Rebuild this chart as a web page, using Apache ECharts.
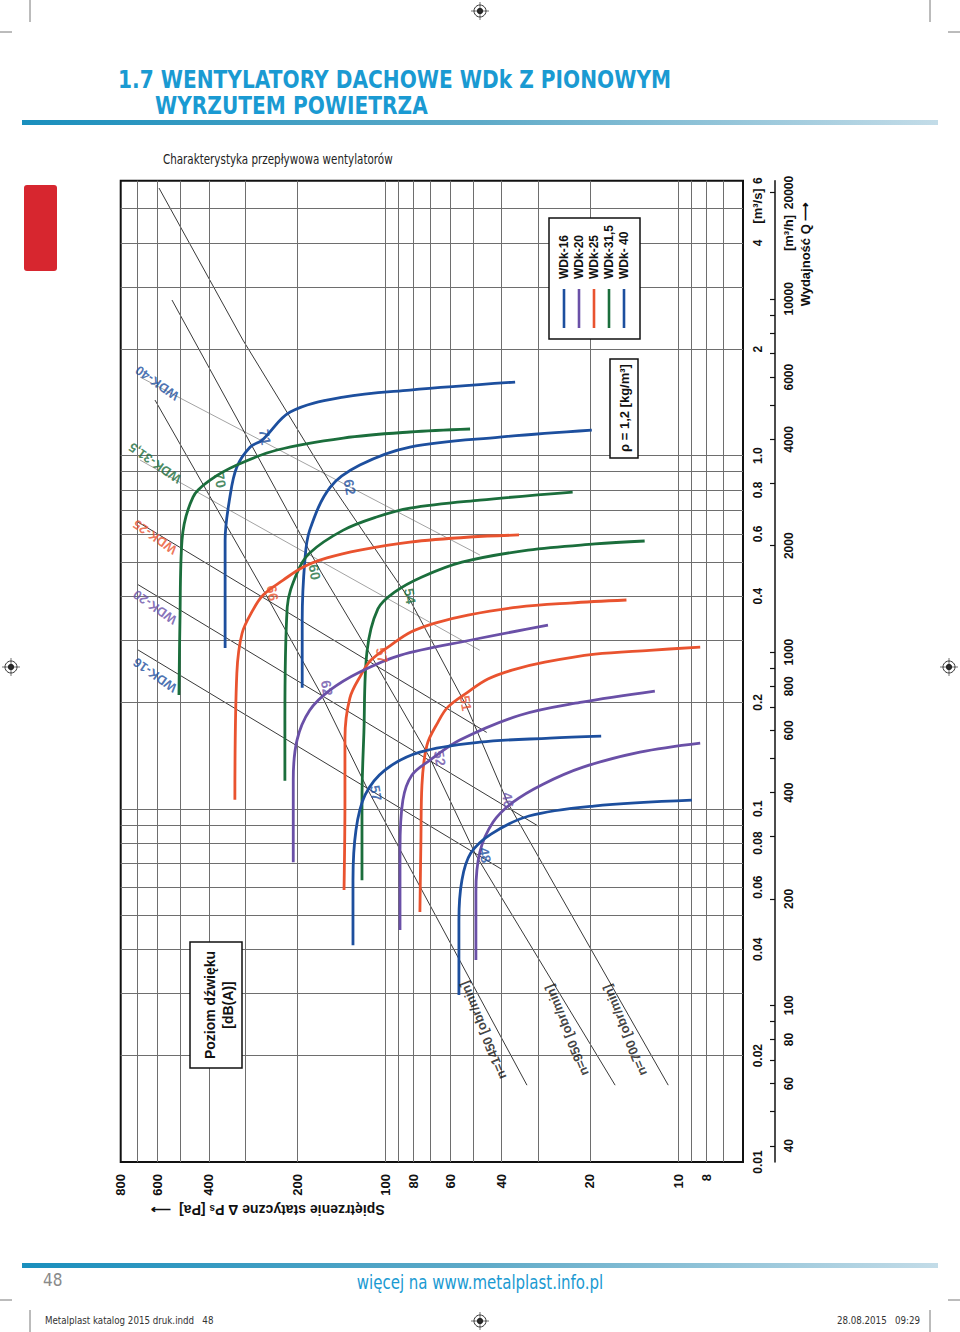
<!DOCTYPE html>
<html><head><meta charset="utf-8">
<script src="https://cdn.jsdelivr.net/npm/echarts@6.0.0/dist/echarts.min.js"></script>
<style>html,body{margin:0;padding:0;background:#fff}#c{width:960px;height:1332px}</style>
</head><body><div id="c"></div>
<script>
// ---- axes / ticks ----
const pressureLabels = [800, 600, 400, 200, 100, 80, 60, 40, 20, 10, 8];
const flowLabels = [0.01, 0.02, 0.04, 0.06, 0.08, 0.1, 0.2, 0.4, 0.6, 0.8, 1, 2, 4, 6];
const flowHLabels = [40, 60, 80, 100, 200, 400, 600, 800, 1000, 2000, 4000, 6000, 10000, 20000];
const flowHTicks = [40, 50, 60, 70, 80, 90, 100, 200, 300, 400, 500, 600, 700, 800, 900, 1000, 2000, 3000, 4000, 5000, 6000, 7000, 8000, 9000, 10000, 20000];
const pressureGrid = [7, 8, 9, 10, 20, 30, 40, 50, 60, 70, 80, 90, 100, 200, 300, 400, 500, 600, 700];
const flowGrid = [0.02, 0.03, 0.04, 0.05, 0.06, 0.07, 0.08, 0.09, 0.1, 0.2, 0.3, 0.4, 0.5, 0.6, 0.7, 0.8, 0.9, 1, 2, 3, 4, 5];

// ---- fan curves: [static pressure Pa, flow m3/s] ----
const wdk40_1450 = [[352,0.285],[352,0.39],[352,0.576],[339,0.763],[321,0.928],[289,1.057],[263,1.106],[211,1.328],[139,1.464],[82.3,1.533],[36,1.615]];
const wdk40_950  = [[192,0.22],[192,0.342],[188,0.506],[181,0.615],[154,0.814],[122,0.94],[82.3,1.057],[40.6,1.128],[19.7,1.181]];
const wdk315_1450 = [[506,0.21],[502,0.342],[494,0.576],[453,0.763],[396,0.852],[321,0.94],[234,1.037],[139,1.121],[82.3,1.166],[51.3,1.189]];
const wdk315_950  = [[220,0.12],[220,0.178],[216,0.372],[200,0.465],[181,0.53],[139,0.615],[107,0.67],[82.3,0.71],[47.5,0.748],[22.9,0.788]];
const wdk315_700  = [[120,0.0628],[120,0.1058],[118.2,0.165],[115.4,0.278],[105.9,0.368],[92.6,0.411],[74.9,0.453],[54.7,0.499],[32.5,0.54],[19.2,0.562],[13,0.573]];
const wdk25_1450 = [[326,0.106],[321,0.242],[308,0.314],[283,0.365],[261,0.403],[223,0.444],[191,0.483],[158,0.513],[122,0.54],[82.3,0.569],[51.3,0.588],[34.9,0.596]];
const wdk25_950  = [[138.2,0.0589],[137.2,0.1058],[137.2,0.1585],[132,0.2058],[121,0.239],[111.8,0.2636],[95.6,0.2907],[81.7,0.3165],[67.6,0.3355],[52.2,0.3535],[35.2,0.3724],[23.4,0.3824],[15,0.39]];
const wdk25_700  = [[76.1,0.051],[75.5,0.0815],[74.9,0.1167],[72,0.1515],[66,0.176],[61.1,0.194],[52.2,0.214],[44.6,0.233],[36.9,0.247],[28.5,0.26],[19.2,0.274],[12.5,0.281],[8.4,0.287]];
const wdk20_1450 = [[206,0.0706],[206,0.1206],[200,0.1565],[181,0.19],[154,0.217],[122,0.244],[89,0.272],[51.3,0.3],[27.8,0.331]];
const wdk20_950  = [[89,0.0454],[89,0.0764],[87,0.1058],[81,0.1246],[70.3,0.1373],[55.6,0.1565],[34.7,0.184],[21.6,0.2],[12,0.2154]];
const wdk20_700  = [[49,0.0373],[49,0.0581],[47.5,0.0754],[42.8,0.0917],[36.6,0.1044],[28.9,0.1174],[21.1,0.1312],[13.5,0.1447],[8.4,0.1535]];
const wdk16_1450 = [[128.8,0.0411],[128.8,0.0628],[125.8,0.0871],[117.2,0.1093],[100.2,0.1287],[76.1,0.1447],[47.5,0.1544],[27.4,0.1585],[18.3,0.1606]];
const wdk16_950  = [[56,0.0297],[56,0.0484],[54.7,0.0628],[51,0.0749],[43.5,0.0848],[32.3,0.0954],[19.4,0.1018],[8.97,0.1058]];

// ---- outlet dynamic-pressure lines per fan size ----
const dynLine16 = [[698,0.2816],[40,0.0674]];
const dynLine20 = [[698,0.431],[30,0.0893]];
const dynLine25 = [[698,0.648],[45,0.1645]];
const dynLine315 = [[687,0.971],[47.5,0.281]];
const dynLine40 = [[687,1.668],[47.5,0.523]];
// ---- constant speed lines ----
const speedLine1450 = [[611,1.436],[255,0.4027],[167,0.214],[114.5,0.113],[32.8,0.0165]];
const speedLine950 = [[534.5,2.756],[165.6,0.468],[111,0.2689],[70.3,0.1391],[49,0.0739],[16.4,0.0165]];
const speedLine700 = [[592,5.72],[306,2.123],[154,0.836],[82.3,0.39],[53,0.1966],[38.1,0.1038],[10.8,0.0165]];

// ---- sound level labels [P, Q, dB] ----
const dbLabels = [
  [257,1.128,'71','blue'],[132,0.814,'62','blue'],
  [366,0.852,'70','green'],[174,0.468,'60','green'],[82.3,0.40,'54','green'],
  [242,0.408,'66','orange'],[102.6,0.272,'57','orange'],[53,0.199,'51','orange'],
  [158,0.2196,'62','purple'],[65,0.139,'52','purple'],[38.1,0.1058,'46','purple'],
  [107.5,0.1108,'57','blue'],[45.6,0.0739,'48','blue']
];
const sizeLabels = [[601,1.604,'WDK-40','blue'],[611,0.952,'WDK-31,5','green'],[611,0.588,'WDK-25','orange'],[611,0.372,'WDK-20','purple'],[611,0.239,'WDK-16','blue']];
const speedLabels = [[46.3,0.0236,'n=1450 [obr/min]'],[24,0.0236,'n=950 [obr/min]'],[15.2,0.0236,'n=700 [obr/min]']];

const legendNames = ['WDk-16','WDk-20','WDk-25','WDk-31,5','WDk- 40'];
const COL = {blue:'#1d4f9e', purple:'#6a50a7', orange:'#e9532f', green:'#1b6e3c'};
const legendColors = [COL.blue, COL.purple, COL.orange, COL.green, COL.blue];

const chart = echarts.init(document.getElementById('c'), null, {renderer:'svg'});

const G = {left:120.7, top:180.7, right:960-743, bottom:1332-1162};
const sans = "DejaVu Sans";
const arial = "Liberation Sans";

function curve(name, data, color){
  return {name, type:'line', data, smooth:0.35, showSymbol:false, silent:true,
    lineStyle:{color, width:2.8}, z:5};
}
function thin(name, data, color){
  return {name, type:'line', data, showSymbol:false, silent:true, lineStyle:{color, width:0.9}, z:3};
}
const gridLines = [];
pressureGrid.forEach(v=>gridLines.push({xAxis:v}));
flowGrid.forEach(v=>gridLines.push({yAxis:v}));

const annot = [];
dbLabels.forEach(d=>annot.push({value:[d[0],d[1]], label:{formatter:d[2], color:COL[d[3]], rotate:-80, fontSize:14, fontWeight:'bold'}}));
sizeLabels.forEach(d=>annot.push({value:[d[0],d[1]], label:{formatter:d[2], color:COL[d[3]], rotate:145, fontSize:13, fontWeight:'bold'}}));
speedLabels.forEach(d=>annot.push({value:[d[0],d[1]], label:{formatter:d[2], color:'#111', rotate:112, fontSize:13, fontWeight:'bold'}}));

const grad = ()=>new echarts.graphic.LinearGradient(0,0,1,0,[{offset:0,color:'#1a8fbd'},{offset:0.5,color:'#5eaac8'},{offset:1,color:'#c3dce8'}]);
const graphic = [
  // crop marks
  {type:'line', shape:{x1:30,y1:0,x2:30,y2:22}, style:{stroke:'#555',lineWidth:0.8}},
  {type:'line', shape:{x1:0,y1:32,x2:12,y2:32}, style:{stroke:'#555',lineWidth:0.8}},
  {type:'line', shape:{x1:930,y1:0,x2:930,y2:22}, style:{stroke:'#555',lineWidth:0.8}},
  {type:'line', shape:{x1:948,y1:32,x2:960,y2:32}, style:{stroke:'#555',lineWidth:0.8}},
  {type:'line', shape:{x1:0,y1:1300,x2:12,y2:1300}, style:{stroke:'#555',lineWidth:0.8}},
  {type:'line', shape:{x1:948,y1:1300,x2:960,y2:1300}, style:{stroke:'#555',lineWidth:0.8}},
  {type:'line', shape:{x1:30,y1:1310,x2:30,y2:1332}, style:{stroke:'#555',lineWidth:0.8}},
  {type:'line', shape:{x1:930,y1:1310,x2:930,y2:1332}, style:{stroke:'#555',lineWidth:0.8}},
  // title
  {type:'text', x:118, y:67, scaleX:0.84, style:{text:'1.7 WENTYLATORY DACHOWE WDk Z PIONOWYM', fill:'#1a9ad2', font:"bold 24px "+sans, lineHeight:24}},
  {type:'text', x:155, y:93, scaleX:0.84, style:{text:'WYRZUTEM POWIETRZA', fill:'#1a9ad2', font:"bold 24px "+sans, lineHeight:24}},
  {type:'rect', shape:{x:22,y:120,width:916,height:5}, style:{fill:grad()}},
  {type:'text', x:163, y:152, scaleX:0.74, style:{text:'Charakterystyka przepływowa wentylatorów', fill:'#222', font:"14px "+sans}},
  {type:'rect', shape:{x:24,y:185,width:33,height:86,r:3}, style:{fill:'#d7262f'}},
  // axis titles
  {type:'text', x:268, y:1210, rotation:Math.PI, style:{text:'Spiętrzenie statyczne Δ P{s|s} [Pa]  ⟶', rich:{s:{font:"bold 10px "+arial, verticalAlign:'bottom'}}, fill:'#111', font:"bold 14px "+arial, align:'center', verticalAlign:'middle'}},
  {type:'text', x:757, y:206, rotation:Math.PI/2, style:{text:'[m³/s]', fill:'#111', font:"bold 13px "+arial, align:'center', verticalAlign:'middle'}},
  {type:'text', x:788, y:233, rotation:Math.PI/2, style:{text:'[m³/h]', fill:'#111', font:"bold 13px "+arial, align:'center', verticalAlign:'middle'}},
  {type:'text', x:805, y:254, rotation:Math.PI/2, style:{text:'Wydajność Q ⟶', fill:'#111', font:"bold 13px "+arial, align:'center', verticalAlign:'middle'}},
  // legend box
  {type:'rect', shape:{x:549,y:218,width:91,height:121}, style:{fill:'#fff', stroke:'#111', lineWidth:1.5}, z:20},
  // rho box
  {type:'rect', shape:{x:610,y:359,width:28,height:99}, style:{fill:'#fff', stroke:'#111', lineWidth:1.5}, z:20},
  {type:'text', x:624, y:408, rotation:Math.PI/2, z:21, style:{text:'ρ = 1,2 [kg/m³]', fill:'#111', font:"bold 13px "+arial, align:'center', verticalAlign:'middle'}},
  // sound level box
  {type:'rect', shape:{x:190,y:942,width:52,height:126}, style:{fill:'#fff', stroke:'#111', lineWidth:1.5}, z:20},
  {type:'text', x:210, y:1005, rotation:Math.PI/2, z:21, style:{text:'Poziom dźwięku', fill:'#111', font:"bold 14px "+arial, align:'center', verticalAlign:'middle'}},
  {type:'text', x:228, y:1005, rotation:Math.PI/2, z:21, style:{text:'[dB(A)]', fill:'#111', font:"bold 14px "+arial, align:'center', verticalAlign:'middle'}},
  // footer
  {type:'rect', shape:{x:22,y:1263,width:916,height:5}, style:{fill:grad()}},
  {type:'text', x:43, y:1271, scaleX:0.85, style:{text:'48', fill:'#8a8a8a', font:"18px "+sans}},
  {type:'text', x:480, y:1282, scaleX:0.79, style:{text:'więcej na www.metalplast.info.pl', fill:'#1a9ad2', font:"19px "+sans, align:'center', verticalAlign:'middle'}},
  {type:'text', x:45, y:1315, scaleX:0.87, style:{text:'Metalplast katalog 2015 druk.indd   48', fill:'#333', font:"10px "+sans}},
  {type:'text', x:920, y:1315, scaleX:0.87, style:{text:'28.08.2015   09:29', fill:'#333', font:"10px "+sans, align:'right'}}
];
// legend entries
legendNames.forEach((n,i)=>{
  const x = 564 + i*15;
  graphic.push({type:'text', x:x, y:279, rotation:Math.PI/2, z:21, style:{text:n, fill:'#111', font:"bold 12px "+arial, align:'left', verticalAlign:'middle'}});
  graphic.push({type:'line', z:21, shape:{x1:x,y1:289,x2:x,y2:328}, style:{stroke:legendColors[i], lineWidth:2.6}});
});
// registration marks
[[480,11],[11,667],[949,667],[480,1321]].forEach(p=>{
  graphic.push({type:'circle', shape:{cx:p[0],cy:p[1],r:6}, style:{fill:'#fff',stroke:'#333',lineWidth:1}});
  graphic.push({type:'circle', shape:{cx:p[0],cy:p[1],r:3.2}, style:{fill:'#222'}});
  graphic.push({type:'line', shape:{x1:p[0]-9,y1:p[1],x2:p[0]+9,y2:p[1]}, style:{stroke:'#333',lineWidth:0.7}});
  graphic.push({type:'line', shape:{x1:p[0],y1:p[1]-9,x2:p[0],y2:p[1]+9}, style:{stroke:'#333',lineWidth:0.7}});
});

const option = {
  animation:false,
  backgroundColor:'#fff',
  grid:{left:G.left, top:G.top, right:G.right, bottom:G.bottom, show:true, borderColor:'#111', borderWidth:2, containLabel:false},
  xAxis:{type:'log', logBase:10, min:6, max:800, inverse:true, position:'bottom',
    axisLine:{show:false}, axisTick:{show:false}, splitLine:{show:false}, minorTick:{show:false},
    axisLabel:{customValues:pressureLabels, rotate:90, margin:12, color:'#111', fontSize:13, fontWeight:'bold', fontFamily:arial}},
  yAxis:[
    {type:'log', logBase:10, min:0.01, max:6, position:'right',
      axisLine:{show:false}, axisTick:{show:false}, splitLine:{show:false},
      axisLabel:{customValues:flowLabels, rotate:90, margin:9, color:'#111', fontSize:12, fontWeight:'bold', fontFamily:arial,
        formatter:v=> (Math.abs(v-1)<1e-9 ? '1.0' : String(+(+v).toPrecision(3)))}},
    {type:'log', logBase:10, min:36, max:21600, position:'right', offset:32,
      axisLine:{show:true, lineStyle:{color:'#111', width:1.5}},
      axisTick:{show:true, inside:true, length:5, customValues:flowHTicks, lineStyle:{color:'#111', width:1.2}},
      splitLine:{show:false},
      axisLabel:{customValues:flowHLabels, rotate:90, margin:8, color:'#111', fontSize:12, fontWeight:'bold', fontFamily:arial,
        formatter:v=>String(Math.round(v))}}
  ],
  graphic,
  series:[
    {type:'line', data:[[100,1]], showSymbol:false, silent:true, lineStyle:{width:0},
      markLine:{silent:true, symbol:['none','none'], label:{show:false}, animation:false,
        lineStyle:{color:'#6e6e6e', width:1, type:'solid'}, data:gridLines}},
    thin('dyn WDk-16', dynLine16, '#222'),
    thin('dyn WDk-20', dynLine20, '#222'),
    thin('dyn WDk-25', dynLine25, '#222'),
    thin('dyn WDk-31,5', dynLine315, '#999'),
    thin('dyn WDk-40', dynLine40, '#999'),
    thin('n=1450', speedLine1450, '#222'),
    thin('n=950', speedLine950, '#222'),
    thin('n=700', speedLine700, '#222'),
    curve('WDk-40 1450', wdk40_1450, COL.blue),
    curve('WDk-40 950', wdk40_950, COL.blue),
    curve('WDk-31,5 1450', wdk315_1450, COL.green),
    curve('WDk-31,5 950', wdk315_950, COL.green),
    curve('WDk-31,5 700', wdk315_700, COL.green),
    curve('WDk-25 1450', wdk25_1450, COL.orange),
    curve('WDk-25 950', wdk25_950, COL.orange),
    curve('WDk-25 700', wdk25_700, COL.orange),
    curve('WDk-20 1450', wdk20_1450, COL.purple),
    curve('WDk-20 950', wdk20_950, COL.purple),
    curve('WDk-20 700', wdk20_700, COL.purple),
    curve('WDk-16 1450', wdk16_1450, COL.blue),
    curve('WDk-16 950', wdk16_950, COL.blue),
    {type:'scatter', data:annot, symbolSize:0, silent:true, z:8,
      label:{show:true, position:'inside', fontFamily:arial}}
  ]
};
chart.setOption(option);
</script></body></html>
